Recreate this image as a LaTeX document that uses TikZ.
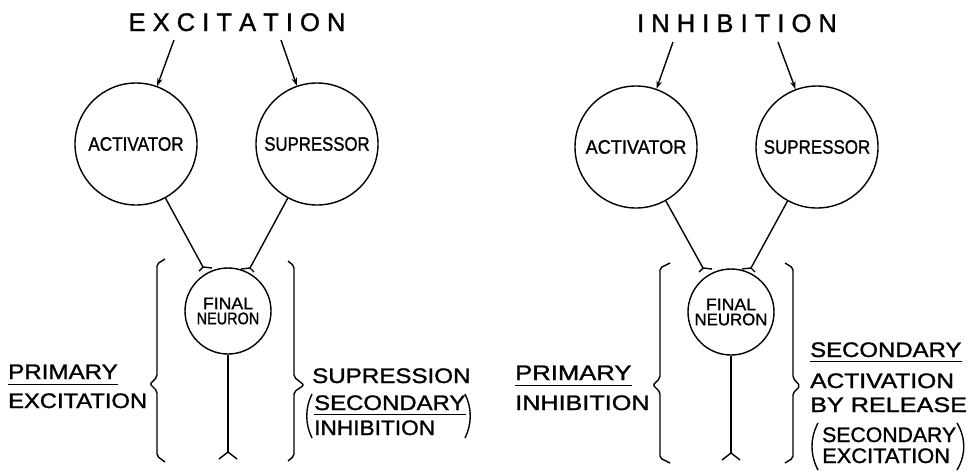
\documentclass[tikz,border=0pt]{standalone}
\usepackage{fontspec}
\setmainfont{Liberation Sans}[FakeBold=1.2]
\usepackage{graphicx}
\usetikzlibrary{arrows.meta}
\newcommand{\sx}[2]{\scalebox{#1}[1]{#2}}
\begin{document}
\begin{tikzpicture}[x=1pt,y=-1pt,
  wire/.style={line width=1.4pt},
  uline/.style={line width=1pt},
  cell/.style={circle,draw,line width=1.4pt,minimum size=122pt,inner sep=0pt,font=\fontsize{19.5}{22}\selectfont},
  fcell/.style={circle,draw,line width=1.4pt,minimum size=86pt,inner sep=0pt,font=\fontsize{16.8}{16}\selectfont,align=center},
  lbl/.style={inner sep=0pt,anchor=base west,font=\fontsize{21}{25}\selectfont},
  ttl/.style={inner sep=0pt,anchor=base,font=\fontsize{25.5}{30}\selectfont},
  arr/.style={wire,-{Stealth[length=8pt,width=5.5pt]}},
  brk/.style={wire,rounded corners=2pt},
]
\useasboundingbox (0,0) rectangle (979,472);

% ===== Left panel: EXCITATION =====
\node[ttl] (t1) at (237,31) {E X C I T A T I O N};
\coordinate (ta1) at (174,40);
\coordinate (tb1) at (281,40);
\node[cell] (act1) at (136,144) {\sx{0.88}{ACTIVATOR}};
\node[cell] (sup1) at (317,144) {\sx{0.86}{SUPRESSOR}};
\node[fcell] (fn1) at (228,311) {\sx{1.05}{FINAL}\\[-1pt]\sx{0.86}{NEURON}};
\draw[arr] (ta1) -- (act1);
\draw[arr] (tb1) -- (sup1);
\coordinate (sa1) at (203,267);
\coordinate (sb1) at (250,268);
\draw[wire] (act1) -- (sa1);
\draw[wire] (sup1) -- (sb1);
\draw[wire] (sa1) -- ++(-4,4) (sa1) -- ++(9,1);
\draw[wire] (sb1) -- ++(4,4) (sb1) -- ++(-9,1);
\coordinate (ax1) at (228,452);
\draw[wire] (fn1) -- (ax1);
\draw[wire] (ax1) -- ++(-9,7) (ax1) -- ++(9,7);
% braces
\draw[brk] (165,259) -- (157,264) -- (157,377) -- (150,384) -- (157,391) -- (157,456) -- (165,462);
\draw[brk] (288,261) -- (294,266) -- (294,377) -- (304,385) -- (294,392) -- (294,456) -- (288,461);
% labels
\node[lbl] (p1) at (8,379) {\sx{1.15}{PRIMARY}};
\draw[uline] ([yshift=-5pt]p1.base west) -- ([yshift=-5pt]p1.base east);
\node[lbl] (e1) at (8,408) {\sx{1.13}{EXCITATION}};
\node[lbl] (s1) at (312,383) {\sx{1.15}{SUPRESSION}};
\node[lbl] (s2) at (314,410) {\sx{1.14}{SECONDARY}};
\draw[uline] ([yshift=-4pt]s2.base west) -- ([yshift=-4pt]s2.base east);
\node[lbl] (i1) at (314,435) {\sx{1.08}{INHIBITION}};
\draw[wire] (312,394) .. controls (305,408) and (305,424) .. (312,438);
\draw[wire] (465,394) .. controls (472,408) and (472,424) .. (465,438);

% ===== Right panel: INHIBITION =====
\node[ttl] (t2) at (737,32) {I N H I B I T I O N};
\coordinate (ta2) at (673,42);
\coordinate (tb2) at (778,42);
\node[cell] (act2) at (636,147) {\sx{0.93}{ACTIVATOR}};
\node[cell] (sup2) at (817,147) {\sx{0.87}{SUPRESSOR}};
\node[fcell] (fn2) at (731,312) {\sx{1.05}{FINAL}\\[-1pt]\sx{1.0}{NEURON}};
\draw[arr] (ta2) -- (act2);
\draw[arr] (tb2) -- (sup2);
\coordinate (sa2) at (703,268);
\coordinate (sb2) at (751,268);
\draw[wire] (act2) -- (sa2);
\draw[wire] (sup2) -- (sb2);
\draw[wire] (sa2) -- ++(-4,4) (sa2) -- ++(9,1);
\draw[wire] (sb2) -- ++(4,4) (sb2) -- ++(-9,1);
\coordinate (ax2) at (731,453);
\draw[wire] (fn2) -- (ax2);
\draw[wire] (ax2) -- ++(-9,7) (ax2) -- ++(9,7);
% braces
\draw[brk] (670,263) -- (660,268) -- (660,378) -- (653,385) -- (660,392) -- (660,458) -- (670,463);
\draw[brk] (785,263) -- (793,268) -- (793,378) -- (800,386) -- (793,393) -- (793,458) -- (785,463);
% labels
\node[lbl] (p2) at (515,380) {\sx{1.22}{PRIMARY}};
\draw[uline] ([yshift=-5pt]p2.base west) -- ([yshift=-5pt]p2.base east);
\node[lbl] (i2) at (515,410) {\sx{1.2}{INHIBITION}};
\node[lbl] (s3) at (810,357) {\sx{1.14}{SECONDARY}};
\draw[uline] ([yshift=-4pt]s3.base west) -- ([yshift=-4pt]s3.base east);
\node[lbl] (a3) at (810,388) {\sx{1.17}{ACTIVATION}};
\node[lbl] (b3) at (810,412) {\sx{1.2}{BY RELEASE}};
\node[lbl] (s4) at (822,442) {\sx{1.01}{SECONDARY}};
\node[lbl] (e4) at (822,463) {\sx{1.04}{EXCITATION}};
\draw[wire] (818,423) .. controls (810,438) and (810,455) .. (818,470);
\draw[wire] (957,423) .. controls (966,438) and (966,455) .. (957,470);
\end{tikzpicture}
\end{document}
